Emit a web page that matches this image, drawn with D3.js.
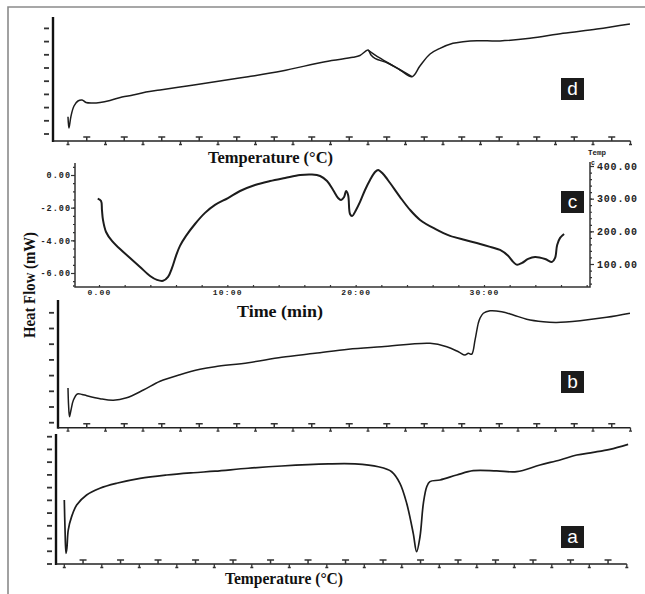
<!DOCTYPE html>
<html>
<head>
<meta charset="utf-8">
<script src="https://cdn.jsdelivr.net/npm/d3@7/dist/d3.min.js"></script>
<style>
  body { margin: 0; background: #fff; }
  svg { display: block; }
</style>
</head>
<body>
<div id="chart-area"></div>
<script>
// DSC thermograms, four stacked panels (d, c, b, a)

// temperature marks along the a/b/d axes (no numbers printed on them)
var tempTicks = [30, 40, 50, 60, 70, 80, 90, 100, 110, 120, 130, 140, 150, 160, 170, 180,
                 190, 200, 210, 220, 230, 240, 250, 260, 270, 280, 290, 300, 310, 320, 330]

// panel c axes
var timeTicks = [0, 10, 20, 30]
var timeLabels = ['0.00', '10:00', '20:00', '30:00']
var heatTicks = [0, -2, -4, -6]
var heatLabels = ['0.00', '-2.00', '-4.00', '-6.00']
var rightTempTicks = [100, 200, 300, 400]
var rightTempLabels = ['100.00', '200.00', '300.00', '400.00']

// panel d : [temperature, heat flow]
var curveD = [[30.0,1.31],[30.5,0.45],[31.6,1.36],[33.2,2.12],[35.3,2.50],[37.5,2.58],[39.6,2.39],
  [42.8,2.35],[47.1,2.39],[52.4,2.54],[58.8,2.80],[64.7,2.95],[71.6,3.18],[79.1,3.33],[93.5,3.64],
  [108.4,3.96],[126.0,4.34],[144.1,4.77],[167.1,5.48],[182.0,5.81],[185.7,5.95],[190.0,6.36],
  [191.6,5.98],[193.7,5.73],[200.7,5.36],[207.1,4.85],[213.5,4.34],[217.7,5.15],[223.1,6.06],
  [228.4,6.49],[235.3,6.87],[240.7,6.99],[248.1,7.07],[260.4,7.05],[276.4,7.25],[294.0,7.63],
  [312.1,7.95],[329.7,8.33]]
var curveD2 = [[190.0,6.36],[196.0,5.78],[204.0,5.12],[213.5,4.34]]

// panel c : [time (min), heat flow (mW)]
var curveC = [[-0.1,-1.45],[0.16,-1.59],[0.23,-2.14],[0.31,-2.75],[0.55,-3.49],[1.01,-4.04],[1.64,-4.53],
  [2.42,-5.08],[3.20,-5.63],[3.98,-6.18],[4.52,-6.42],[4.99,-6.48],[5.38,-6.24],[5.69,-5.69],
  [6.00,-4.95],[6.31,-4.34],[6.78,-3.73],[7.48,-3.00],[8.26,-2.32],[9.04,-1.83],[10.05,-1.41],
  [10.99,-0.98],[12.16,-0.61],[13.33,-0.37],[14.5,-0.18],[15.67,0.0],[16.6,0.03],[17.23,-0.06],
  [17.77,-0.37],[18.24,-0.92],[18.63,-1.41],[18.86,-1.53],[19.1,-1.35],[19.25,-0.98],[19.41,-1.22],
  [19.56,-2.39],[19.72,-2.51],[20.03,-2.14],[20.34,-1.65],[20.73,-0.92],[21.12,-0.31],[21.51,0.18],
  [21.75,0.31],[22.14,0.06],[22.68,-0.49],[23.46,-1.35],[24.24,-2.14],[25.02,-2.75],[26.19,-3.30],
  [27.36,-3.73],[28.53,-3.98],[29.70,-4.22],[30.48,-4.40],[31.25,-4.59],[31.88,-4.95],[32.27,-5.32],
  [32.58,-5.50],[32.97,-5.38],[33.44,-5.14],[33.98,-5.02],[34.76,-5.14],[35.31,-5.32],[35.54,-5.08],
  [35.70,-4.28],[35.93,-3.85],[36.24,-3.61]]

// panel b
var curveB = [[30.0,2.21],[30.3,1.13],[30.8,0.38],[31.6,0.81],[32.9,1.45],[35.0,1.83],[37.5,1.80],
  [40.0,1.72],[47.1,1.53],[54.2,1.43],[61.3,1.59],[70.2,2.08],[79.1,2.64],[89.7,3.06],[100.4,3.40],
  [108.4,3.57],[126.2,3.82],[144.0,4.17],[161.7,4.42],[179.5,4.68],[197.3,4.84],[223.1,5.06],
  [232.0,4.84],[238.2,4.52],[241.7,4.31],[243.5,4.42],[245.3,4.36],[247.1,5.27],[248.8,6.33],
  [249.7,6.65],[251.5,6.97],[255.1,7.13],[261.3,7.07],[267.5,6.86],[274.6,6.59],[283.5,6.43],
  [290.6,6.39],[303.1,6.50],[317.3,6.71],[329.7,6.97]]

// panel a
var curveA = [[30.0,5.03],[30.4,2.67],[30.9,0.84],[31.4,1.26],[32.1,2.67],[33.9,3.72],[36.6,4.63],
  [41.9,5.42],[49.0,5.95],[57.9,6.34],[70.4,6.73],[84.6,6.99],[98.8,7.17],[110.4,7.29],[128.1,7.52],
  [145.9,7.70],[170.8,7.86],[185.0,7.86],[197.5,7.64],[204.6,7.25],[209.0,6.34],[212.6,4.77],
  [216.1,2.41],[217.9,0.97],[219.7,2.14],[221.5,4.77],[223.3,6.07],[225.0,6.47],[230.4,6.60],
  [239.3,6.99],[248.1,7.33],[260.6,7.31],[271.3,7.25],[283.7,7.78],[294.4,8.17],[303.3,8.56],
  [312.1,8.77],[321.0,9.01],[330.7,9.40]]

var width = 645, height = 594
var ink = '#1c1c1c'
var serif = '"Liberation Serif", "Times New Roman", serif'
var mono = '"Liberation Mono", "Courier New", monospace'

var svg = d3.select('#chart-area').append('svg')
  .attr('width', width)
  .attr('height', height)

// outer frame (left + top edges only)
svg.append('path')
  .attr('d', 'M8,594 L8,7 L645,7')
  .attr('fill', 'none')
  .attr('stroke', '#8a8a8a')
  .attr('stroke-width', 1.6)

var line = d3.line().curve(d3.curveCatmullRom.alpha(0.5))

// one temperature panel (d, b, a) -------------------------------------------
function tempPanel(opt) {
  var x = d3.scaleLinear().domain([30, 330]).range(opt.xRange)
  var y = d3.scaleLinear().domain(opt.yDomain).range(opt.yRange)
  var g = svg.append('g')

  // left axis
  g.append('line')
    .attr('x1', opt.left).attr('x2', opt.left)
    .attr('y1', opt.top).attr('y2', opt.bottom + 1)
    .attr('stroke', '#111').attr('stroke-width', 2.4)

  // bottom axis
  g.append('line')
    .attr('x1', opt.left).attr('x2', opt.xRange[1])
    .attr('y1', opt.bottom).attr('y2', opt.bottom)
    .attr('stroke', '#222').attr('stroke-width', 1.4)

  // y tick dashes (labels unreadable in the scan)
  g.selectAll('.ytick')
    .data(opt.yTicks)
    .enter().append('line')
    .attr('x1', opt.left - 9).attr('x2', opt.left - 4)
    .attr('y1', function(d){ return y(d) }).attr('y2', function(d){ return y(d) })
    .attr('stroke', '#333').attr('stroke-width', 1.8)

  // temperature marks: short tick below, "T" above, alternating
  var marks = g.selectAll('.tmark').data(tempTicks).enter().append('g')
    .attr('transform', function(d){ return 'translate(' + x(d) + ',' + opt.bottom + ')' })
  marks.filter(function(d, i){ return i % 2 == 0 })
    .append('path').attr('d', 'M0,0 L0,3.5 M-1.5,3.5 L1.5,3.5')
    .attr('stroke', '#333').attr('stroke-width', 1.3).attr('fill', 'none')
  marks.filter(function(d, i){ return i % 2 == 1 })
    .append('path').attr('d', 'M-3.5,-4 L3.5,-4 M0,-4 L0,0')
    .attr('stroke', '#333').attr('stroke-width', 1.5).attr('fill', 'none')

  opt.curves.forEach(function(c){
    g.append('path')
      .attr('d', line(c.map(function(p){ return [x(p[0]), y(p[1])] })))
      .attr('fill', 'none')
      .attr('stroke', ink)
      .attr('stroke-width', opt.lw)
      .attr('stroke-linejoin', 'round')
  })
}

function tag(letter, x0, y0) {
  svg.append('rect')
    .attr('x', x0).attr('y', y0).attr('width', 23).attr('height', 22)
    .attr('fill', '#1b1b1b')
  svg.append('text')
    .attr('x', x0 + 11.5).attr('y', y0 + 17)
    .attr('text-anchor', 'middle')
    .attr('font-family', '"Liberation Sans", Arial, sans-serif')
    .attr('font-size', '19px')
    .attr('fill', '#fff')
    .text(letter)
}

function axisTitle(txt, x0, y0, size, len) {
  svg.append('text')
    .attr('x', x0).attr('y', y0)
    .attr('font-family', serif)
    .attr('font-weight', 'bold')
    .attr('font-size', size + 'px')
    .attr('textLength', len)
    .attr('lengthAdjust', 'spacingAndGlyphs')
    .attr('fill', '#111')
    .text(txt)
}

// d
tempPanel({ xRange: [68, 630.5], yDomain: [0, 8], yRange: [134, 28.4], yTicks: [0,1,2,3,4,5,6,7,8],
  left: 53, top: 17, bottom: 141, lw: 1.5, curves: [curveD, curveD2] })
axisTitle('Temperature (°C)', 208, 163, 17, 125)
tag('d', 561, 78)

// b
tempPanel({ xRange: [68, 630.5], yDomain: [0, 7], yRange: [422.7, 312.8], yTicks: [0,1,2,3,4,5,6,7],
  left: 58, top: 300, bottom: 427.7, lw: 1.5, curves: [curveB] })
tag('b', 561, 371)

// a
tempPanel({ xRange: [64.3, 626.8], yDomain: [0, 10], yRange: [564, 436.7], yTicks: [0,1,2,3,4,5,6,7,8,9,10],
  left: 56, top: 434, bottom: 564, lw: 1.7, curves: [curveA] })
axisTitle('Temperature (°C)', 225, 583.5, 16, 118)
tag('a', 561, 526)

// c : heat flow vs time ------------------------------------------------------
var xc = d3.scaleLinear().domain([0, 30]).range([99, 484])
var yc = d3.scaleLinear().domain([0, -6]).range([175, 273])
var yr = d3.scaleLinear().domain([100, 400]).range([264, 166])
var gc = svg.append('g')

var cAxisStyle = function(sel, size, spacing) {
  sel.select('.domain').remove()
  sel.selectAll('line').attr('stroke', '#333').attr('stroke-width', 1.2)
  sel.selectAll('text')
    .attr('font-family', mono).attr('font-weight', 'bold')
    .attr('font-size', size + 'px').attr('letter-spacing', spacing + 'px')
    .attr('fill', '#222')
}

// axis frame lines
gc.append('path')
  .attr('d', 'M75,163 L75,287 L590,287 L590,162')
  .attr('fill', 'none').attr('stroke', '#333').attr('stroke-width', 1.5)

// minor ticks
gc.append('g').attr('transform', 'translate(75,0)')
  .call(d3.axisLeft(yc).tickValues(d3.range(0.5, -6.6, -0.5)).tickSize(2).tickFormat(''))
  .call(cAxisStyle, 8, 0)
gc.append('g').attr('transform', 'translate(0,287)')
  .call(d3.axisBottom(xc).tickValues(d3.range(-2, 39, 2)).tickSize(-2).tickFormat(''))
  .call(cAxisStyle, 8, 0)
gc.append('g').attr('transform', 'translate(590,0)')
  .call(d3.axisRight(yr).tickValues(d3.range(40, 401, 20)).tickSize(2).tickFormat(''))
  .call(cAxisStyle, 8, 0)

// labelled ticks
gc.append('g').attr('transform', 'translate(75,0)')
  .call(d3.axisLeft(yc).tickValues(heatTicks).tickSize(4).tickPadding(0)
    .tickFormat(function(d, i){ return heatLabels[i] }))
  .call(cAxisStyle, 8.5, 1)
gc.append('g').attr('transform', 'translate(0,287)')
  .call(d3.axisBottom(xc).tickValues(timeTicks).tickSize(0).tickPadding(2)
    .tickFormat(function(d, i){ return timeLabels[i] }))
  .call(cAxisStyle, 8, 1.2)
gc.append('g').attr('transform', 'translate(590,0)')
  .call(d3.axisRight(yr).tickValues(rightTempTicks).tickSize(4).tickPadding(3)
    .tickFormat(function(d, i){ return rightTempLabels[i] }))
  .call(cAxisStyle, 10, 0.8)

gc.append('text').attr('x', 588).attr('y', 155)
  .attr('font-family', mono).attr('font-weight', 'bold').attr('font-size', '7.5px')
  .attr('fill', '#222').text('Temp')
gc.append('text').attr('x', 591).attr('y', 164.5)
  .attr('font-family', mono).attr('font-weight', 'bold').attr('font-size', '6.5px')
  .attr('fill', '#222').text('c')

gc.append('path')
  .attr('d', line(curveC.map(function(p){ return [xc(p[0]), yc(p[1])] })))
  .attr('fill', 'none')
  .attr('stroke', ink)
  .attr('stroke-width', 2)
  .attr('stroke-linejoin', 'round')

axisTitle('Time (min)', 237, 316.5, 17, 86)
tag('c', 561, 191)

// shared y title
svg.append('text')
  .attr('transform', 'translate(35,338) rotate(-90)')
  .attr('font-family', serif)
  .attr('font-weight', 'bold')
  .attr('font-size', '17px')
  .attr('textLength', 106)
  .attr('lengthAdjust', 'spacingAndGlyphs')
  .attr('fill', '#111')
  .text('Heat Flow (mW)')
</script>
</body>
</html>
